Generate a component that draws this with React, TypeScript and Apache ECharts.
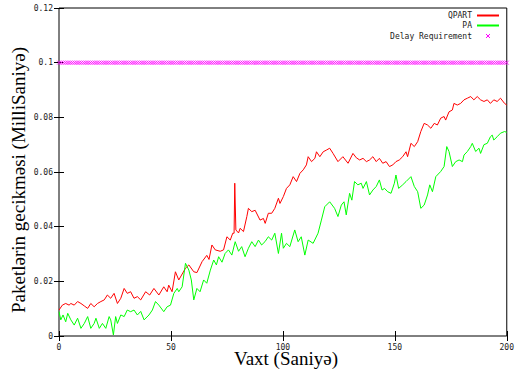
import React, { useEffect, useRef } from "react";
import * as echarts from "echarts";

// QPART series (time in seconds, delay)
const qpartTime = [
  0, 1.5, 3, 4.5, 5.3, 6.8, 8.3, 9.8, 11.3, 12.8, 14.2, 15.7, 17.2, 18.7, 20.2, 21.6, 23.1, 24.6, 26.1, 27.6,
  29.1, 30.5, 32, 33.5, 35, 36.5, 38.7, 40.5, 42.4, 44.6, 46.8, 48.3, 49, 50.5, 52, 53.5, 56.5, 58, 60.2, 61.6,
  63.9, 66, 67, 68.3, 69.8, 72, 73.5, 75, 76.5, 77.6, 78.2, 78.5, 79.0, 80.2, 80.9, 82.4, 83.9, 84.6, 86.1, 87.6,
  89.8, 91.3, 92.1, 93.5, 95, 96.4, 98, 98.7, 100.2, 101.6, 103.1, 104.6, 106.1, 107.6, 109.1, 110.5, 111.3, 112.8, 114.3, 115,
  116.5, 118, 119.4, 120.9, 122.4, 124.6, 126.8, 129.1, 131.3, 132.8, 134.3, 135.8, 137.3, 138.7, 140.2, 141.7, 143.1, 144.6, 146.1, 147.6,
  149.1, 150.5, 152, 153.5, 155, 155.7, 157.2, 158.7, 160.2, 161.6, 163.1, 164.6, 166.1, 167.6, 169, 170.5, 172, 172.7, 174.2, 175.7,
  176.4, 177.9, 179.4, 180.9, 182.4, 183.9, 185.3, 186.8, 188.3, 189.8, 191.3, 192.7, 194.2, 195.7, 197.2, 199, 200,
];
const qpartDelay = [
  0.0095, 0.0113, 0.0119, 0.0113, 0.0119, 0.0113, 0.0126, 0.0119, 0.011, 0.0101, 0.0119, 0.0107, 0.0119, 0.0126, 0.0132, 0.015, 0.0138, 0.0156, 0.0119, 0.0138,
  0.0174, 0.0156, 0.0162, 0.0138, 0.0144, 0.0132, 0.0162, 0.015, 0.0174, 0.015, 0.018, 0.0162, 0.0186, 0.0162, 0.0235, 0.0205, 0.0248, 0.026, 0.0235, 0.0232,
  0.0272, 0.0295, 0.028, 0.0333, 0.0315, 0.031, 0.0315, 0.0363, 0.0351, 0.0376, 0.0376, 0.0559, 0.0388, 0.0377, 0.0394, 0.0382, 0.0437, 0.0467, 0.0455, 0.046,
  0.0424, 0.043, 0.0412, 0.0449, 0.0449, 0.0467, 0.0504, 0.0485, 0.051, 0.054, 0.0553, 0.0583, 0.0565, 0.0595, 0.0608, 0.0626, 0.0656, 0.0638, 0.065, 0.0674,
  0.0656, 0.0674, 0.068, 0.0687, 0.0668, 0.0638, 0.0656, 0.0632, 0.0668, 0.0652, 0.0644, 0.065, 0.0638, 0.0644, 0.0656, 0.0638, 0.065, 0.0632, 0.0638, 0.062,
  0.0626, 0.0638, 0.0644, 0.0656, 0.0674, 0.0656, 0.0705, 0.0693, 0.0711, 0.0748, 0.0778, 0.0772, 0.076, 0.0778, 0.0772, 0.0797, 0.0803, 0.079, 0.082, 0.0827,
  0.0851, 0.0845, 0.0851, 0.0864, 0.087, 0.0876, 0.0864, 0.0876, 0.0864, 0.0858, 0.0864, 0.0851, 0.0864, 0.0858, 0.087, 0.0851, 0.0845,
];

// PA series (time in seconds, delay)
const paTime = [
  0, 0.8, 1.8, 3, 3.9, 5.3, 6.8, 8.3, 9.8, 11.3, 12.8, 14.2, 15.7, 16.5, 18, 19.4, 20.9, 22.4, 23.1, 24.3,
  25.3, 26.1, 27.6, 29.1, 30.5, 32, 33.5, 35, 36.5, 38, 40.2, 41.7, 43.1, 44.6, 46.8, 48.3, 49.8, 51.3, 52.8, 53.5,
  55, 56.5, 58, 59.1, 60.2, 61.6, 63, 64.6, 66, 67.6, 69.1, 70.3, 71.3, 72.8, 74.2, 75.7, 77.2, 78.7, 80.2, 81.6,
  83.1, 84.6, 86.1, 87.6, 89.1, 90.5, 92, 93.5, 95, 96.4, 98, 99.4, 100.2, 101.6, 103.1, 105.3, 106.8, 108.2, 109.8, 111.3,
  113.5, 115.7, 117.2, 118.7, 120.9, 123.1, 124.6, 126.1, 127.3, 128.3, 129.8, 130.8, 132, 133.5, 135, 135.8, 137.3, 138.7, 140.2, 141.7,
  143.1, 144.3, 145.4, 146.8, 148.3, 149.8, 150.5, 151.7, 153.5, 155, 157.2, 158.7, 160.2, 161.6, 163.1, 164.6, 165.6, 166.8, 168.3, 170.5,
  172, 173.2, 174.2, 175.7, 177.2, 178.7, 180.2, 180.9, 182.4, 183.9, 184.6, 186.1, 187.6, 188.3, 189.8, 191.3, 192.7, 193.5, 194.2, 195.7,
  197.2, 199, 200,
];
const paDelay = [
  0.0089, 0.0059, 0.0077, 0.0052, 0.0083, 0.0059, 0.004, 0.0065, 0.0028, 0.0046, 0.0071, 0.0028, 0.0046, 0.0065, 0.0028, 0.0046, 0.0028, 0.0071, 0.0059, 0.0004,
  0.0071, 0.0046, 0.0077, 0.0071, 0.0095, 0.0089, 0.0095, 0.0077, 0.009, 0.0059, 0.0077, 0.0095, 0.0126, 0.0113, 0.0089, 0.0107, 0.0113, 0.0156, 0.0174, 0.0162,
  0.018, 0.0266, 0.0241, 0.0205, 0.0132, 0.0174, 0.0162, 0.0205, 0.0193, 0.0241, 0.0278, 0.026, 0.029, 0.027, 0.0302, 0.0315, 0.0296, 0.0345, 0.031, 0.0327,
  0.029, 0.0321, 0.0345, 0.0327, 0.0351, 0.0333, 0.0345, 0.0363, 0.0351, 0.0376, 0.0302, 0.0376, 0.0321, 0.0339, 0.0327, 0.0388, 0.0345, 0.0363, 0.0296, 0.0351,
  0.0339, 0.0376, 0.0424, 0.0473, 0.0491, 0.0467, 0.0437, 0.0479, 0.0491, 0.0443, 0.0522, 0.0497, 0.0565, 0.0553, 0.0559, 0.054, 0.0565, 0.0516, 0.0534, 0.0547,
  0.0571, 0.0534, 0.054, 0.0528, 0.0522, 0.0559, 0.0589, 0.054, 0.0553, 0.0565, 0.0583, 0.0547, 0.0528, 0.0467, 0.0479, 0.0516, 0.0553, 0.0528, 0.0583, 0.0602,
  0.062, 0.0693, 0.0675, 0.062, 0.0638, 0.0644, 0.0638, 0.0662, 0.0675, 0.0693, 0.0705, 0.0675, 0.0687, 0.0668, 0.07, 0.0705, 0.0729, 0.0735, 0.0717, 0.0729,
  0.0742, 0.0748, 0.0745,
];

// Delay requirement (constant), sampled every second
const delayRequirement = 0.1;
const delayTimes = Array.from({ length: 201 }, (_, i) => i);

const xTicks = { min: 0, max: 200, interval: 50 };
const yTicks = { min: 0, max: 0.12, interval: 0.02 };

const seriesNames = ["QPART", "PA", "Delay Requirement"];
const seriesColors = ["#ff0000", "#00ff00", "#ff00ff"];
const xTitle = "Vaxt (Saniyə)";
const yTitle = "Paketlərin gecikməsi (MilliSaniyə)";

const monoFont = "DejaVu Sans Mono";
const serifFont = "Liberation Serif";

export default function App() {
  const ref = useRef<HTMLDivElement>(null);
  useEffect(() => {
    document.body.style.margin = "0";
    const chart = echarts.init(ref.current!, null, { renderer: "svg" });
    const tickStyle = { inside: true, length: 5, lineStyle: { color: "#000", width: 1 } };
    const labelStyle = { fontFamily: monoFont, fontSize: 8, color: "#222" };
    const legendRows = [15.5, 25.5, 36];
    const legendTextRight = 472;
    const graphic: any[] = [
      {
        type: "text",
        x: 286,
        y: 358,
        style: {
          text: xTitle,
          font: `19px "${serifFont}"`,
          fill: "#000",
          textAlign: "center",
          textVerticalAlign: "middle",
          align: "center",
          verticalAlign: "middle",
        },
      },
      {
        type: "text",
        x: 18,
        y: 180,
        rotation: Math.PI / 2,
        style: {
          text: yTitle,
          font: `19px "${serifFont}"`,
          fill: "#000",
          textAlign: "center",
          textVerticalAlign: "middle",
          align: "center",
          verticalAlign: "middle",
        },
      },
    ];
    seriesNames.forEach((name, i) => {
      graphic.push({
        type: "text",
        x: legendTextRight,
        y: legendRows[i],
        style: {
          text: name,
          font: `8px "${monoFont}"`,
          fill: "#222",
          textAlign: "right",
          textVerticalAlign: "middle",
          align: "right",
          verticalAlign: "middle",
        },
      });
    });
    graphic.push(
      { type: "rect", z: 100, shape: { x: 477, y: legendRows[0] - 1, width: 22, height: 2 }, style: { fill: seriesColors[0], stroke: "none" } },
      { type: "rect", z: 100, shape: { x: 477, y: legendRows[1] - 1, width: 22, height: 2 }, style: { fill: seriesColors[1], stroke: "none" } },
      {
        type: "polyline",
        shape: { points: [[486, legendRows[2] - 2], [490, legendRows[2] + 2]] },
        style: { stroke: seriesColors[2], fill: "none", lineWidth: 1 },
      },
      {
        type: "polyline",
        shape: { points: [[490, legendRows[2] - 2], [486, legendRows[2] + 2]] },
        style: { stroke: seriesColors[2], fill: "none", lineWidth: 1 },
      }
    );

    chart.setOption({
      animation: false,
      backgroundColor: "#fff",
      grid: { left: 59, right: 8, top: 8, bottom: 37, show: true, borderColor: "#000", borderWidth: 1, backgroundColor: "transparent" },
      xAxis: [
        {
          type: "value",
          ...xTicks,
          position: "bottom",
          axisLine: { show: false },
          axisTick: tickStyle,
          axisLabel: { ...labelStyle, margin: 7 },
          splitLine: { show: false },
        },
        {
          type: "value",
          ...xTicks,
          position: "top",
          axisLine: { show: false },
          axisTick: tickStyle,
          axisLabel: { show: false },
          splitLine: { show: false },
        },
      ],
      yAxis: [
        {
          type: "value",
          ...yTicks,
          position: "left",
          axisLine: { show: false },
          axisTick: tickStyle,
          axisLabel: { ...labelStyle, margin: 6, formatter: (v: number) => String(+v.toFixed(2)) },
          splitLine: { show: false },
        },
        {
          type: "value",
          ...yTicks,
          position: "right",
          axisLine: { show: false },
          axisTick: tickStyle,
          axisLabel: { show: false },
          splitLine: { show: false },
        },
      ],
      series: [
        {
          name: seriesNames[0],
          type: "line",
          data: qpartTime.map((t, i) => [t, qpartDelay[i]]),
          showSymbol: false,
          lineStyle: { color: seriesColors[0], width: 1 },
          itemStyle: { color: seriesColors[0] },
        },
        {
          name: seriesNames[1],
          type: "line",
          data: paTime.map((t, i) => [t, paDelay[i]]),
          showSymbol: false,
          lineStyle: { color: seriesColors[1], width: 1 },
          itemStyle: { color: seriesColors[1] },
        },
        {
          name: seriesNames[2],
          type: "scatter",
          data: delayTimes.map((t) => [t, delayRequirement]),
          symbol: "path://M0,0L10,10M10,0L0,10",
          symbolSize: 4,
          itemStyle: { color: "none", borderColor: seriesColors[2], borderWidth: 1 },
        },
      ],
      graphic,
    });
    return () => chart.dispose();
  }, []);
  return <div ref={ref} style={{ width: 517, height: 373 }} />;
}
